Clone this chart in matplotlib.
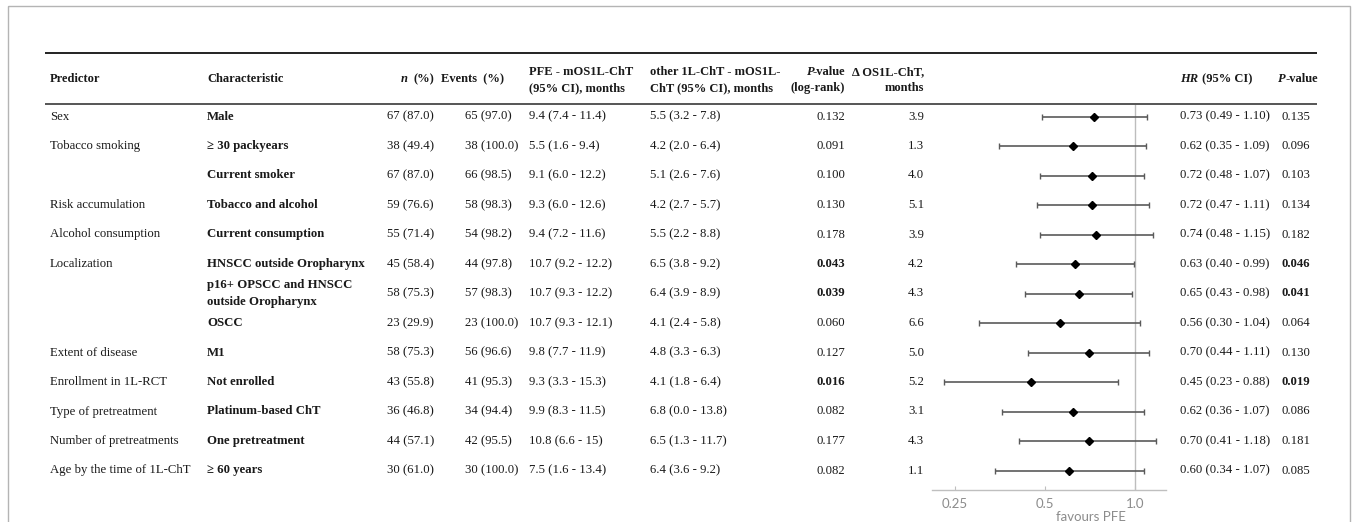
import matplotlib
matplotlib.use("Agg")
import matplotlib.pyplot as plt
import numpy as np
from matplotlib.patches import Rectangle

plt.rcParams['font.family'] = ['Liberation Serif', 'DejaVu Serif']

# ---------------- data ----------------
predictors = ["Sex", "Tobacco smoking", "", "Risk accumulation", "Alcohol consumption",
              "Localization", "", "", "Extent of disease", "Enrollment in 1L-RCT",
              "Type of pretreatment", "Number of pretreatments", "Age by the time of 1L-ChT"]
characteristics = ["Male", "\u2265 30 packyears", "Current smoker", "Tobacco and alcohol",
                   "Current consumption", "HNSCC outside Oropharynx",
                   "p16+ OPSCC and HNSCC\noutside Oropharynx", "OSCC", "M1", "Not enrolled",
                   "Platinum-based ChT", "One pretreatment", "\u2265 60 years"]
n_pct = ["67 (87.0)", "38 (49.4)", "67 (87.0)", "59 (76.6)", "55 (71.4)", "45 (58.4)",
         "58 (75.3)", "23 (29.9)", "58 (75.3)", "43 (55.8)", "36 (46.8)", "44 (57.1)", "30 (61.0)"]
events_pct = ["65 (97.0)", "38 (100.0)", "66 (98.5)", "58 (98.3)", "54 (98.2)", "44 (97.8)",
              "57 (98.3)", "23 (100.0)", "56 (96.6)", "41 (95.3)", "34 (94.4)", "42 (95.5)", "30 (100.0)"]
pfe_mos = ["9.4 (7.4 - 11.4)", "5.5 (1.6 - 9.4)", "9.1 (6.0 - 12.2)", "9.3 (6.0 - 12.6)",
           "9.4 (7.2 - 11.6)", "10.7 (9.2 - 12.2)", "10.7 (9.3 - 12.2)", "10.7 (9.3 - 12.1)",
           "9.8 (7.7 - 11.9)", "9.3 (3.3 - 15.3)", "9.9 (8.3 - 11.5)", "10.8 (6.6 - 15)",
           "7.5 (1.6 - 13.4)"]
other_mos = ["5.5 (3.2 - 7.8)", "4.2 (2.0 - 6.4)", "5.1 (2.6 - 7.6)", "4.2 (2.7 - 5.7)",
             "5.5 (2.2 - 8.8)", "6.5 (3.8 - 9.2)", "6.4 (3.9 - 8.9)", "4.1 (2.4 - 5.8)",
             "4.8 (3.3 - 6.3)", "4.1 (1.8 - 6.4)", "6.8 (0.0 - 13.8)", "6.5 (1.3 - 11.7)",
             "6.4 (3.6 - 9.2)"]
p_logrank = ["0.132", "0.091", "0.100", "0.130", "0.178", "0.043", "0.039", "0.060",
             "0.127", "0.016", "0.082", "0.177", "0.082"]
delta_os = ["3.9", "1.3", "4.0", "5.1", "3.9", "4.2", "4.3", "6.6", "5.0", "5.2", "3.1", "4.3", "1.1"]
hr = np.array([0.73, 0.62, 0.72, 0.72, 0.74, 0.63, 0.65, 0.56, 0.70, 0.45, 0.62, 0.70, 0.60])
hr_lo = np.array([0.49, 0.35, 0.48, 0.47, 0.48, 0.40, 0.43, 0.30, 0.44, 0.23, 0.36, 0.41, 0.34])
hr_hi = np.array([1.10, 1.09, 1.07, 1.11, 1.15, 0.99, 0.98, 1.04, 1.11, 0.88, 1.07, 1.18, 1.07])
p_hr = ["0.135", "0.096", "0.103", "0.134", "0.182", "0.046", "0.041", "0.064",
        "0.130", "0.019", "0.086", "0.181", "0.085"]
xticks = [0.25, 0.5, 1.0]
xticklabels = ["0.25", "0.5", "1.0"]

# ---------------- layout ----------------
W, H = 1356, 522
fig = plt.figure(figsize=(W / 100, H / 100), dpi=100)
base = fig.add_axes([0, 0, 1, 1])
base.set_xlim(0, W)
base.set_ylim(H, 0)
base.axis('off')

ROW0, STEP = 116.5, 29.5
def row_y(i):
    return ROW0 + STEP * i

TXT = '#1a1a1a'
FS = 9.2

# outer frame
base.add_patch(Rectangle((8, 6), 1342, 530, fill=False, edgecolor='#b4b4b4', lw=1.0))

# rules
base.plot([45, 1317], [53, 53], color='#222222', lw=1.4, solid_capstyle='butt')
base.plot([45, 1317], [104, 104], color='#555555', lw=1.4, solid_capstyle='butt')

# headers
hkw = dict(fontsize=9, color=TXT, fontweight='bold', va='center')
base.text(50, 79, "Predictor", ha='left', **hkw)
base.text(207, 79, "Characteristic", ha='left', **hkw)
base.text(434, 79, "(%)", ha='right', **hkw)
base.text(408, 79, "n", ha='right', style='italic', **hkw)
base.text(441, 79, "Events  (%)", ha='left', **hkw)
base.text(529, 72, "PFE - mOS1L-ChT", ha='left', **hkw)
base.text(529, 88, "(95% CI), months", ha='left', **hkw)
base.text(650, 72, "other 1L-ChT - mOS1L-", ha='left', **hkw)
base.text(650, 88, "ChT (95% CI), months", ha='left', **hkw)
base.text(845, 72, "-value", ha='right', **hkw)
base.text(815, 72, "P", ha='right', style='italic', **hkw)
base.text(845, 88, "(log-rank)", ha='right', **hkw)
base.text(924, 72, "\u0394 OS1L-ChT,", ha='right', **hkw)
base.text(924, 88, "months", ha='right', **hkw)
base.text(1180, 79, "HR", ha='left', style='italic', **hkw)
base.text(1199, 79, " (95% CI)", ha='left', **hkw)
base.text(1278, 79, "P", ha='left', style='italic', **hkw)
base.text(1286, 79, "-value", ha='left', **hkw)

# body
bkw = dict(fontsize=FS, color=TXT, va='center')
for i in range(len(characteristics)):
    y = row_y(i)
    base.text(50, y, predictors[i], ha='left', **bkw)
    base.text(207, y, characteristics[i], ha='left', fontweight='bold', linespacing=1.6, **bkw)
    base.text(387, y, n_pct[i], ha='left', **bkw)
    base.text(465, y, events_pct[i], ha='left', **bkw)
    base.text(529, y, pfe_mos[i], ha='left', **bkw)
    base.text(650, y, other_mos[i], ha='left', **bkw)
    bold_lr = float(p_logrank[i]) < 0.05
    base.text(845, y, p_logrank[i], ha='right', fontweight='bold' if bold_lr else 'normal', **bkw)
    base.text(924, y, delta_os[i], ha='right', **bkw)
    base.text(1180, y, f"{hr[i]:.2f} ({hr_lo[i]:.2f} - {hr_hi[i]:.2f})", ha='left', **bkw)
    bold_hr = float(p_hr[i]) < 0.05
    base.text(1281, y, p_hr[i], ha='left', fontweight='bold' if bold_hr else 'normal', **bkw)

# ---------------- forest plot ----------------
AX_L, AX_R, AX_TOP, AX_BOT = 932, 1166, 105, 490
X_ONE, PX_PER_DOUBLING = 1135, 90
fax = fig.add_axes([AX_L / W, 1 - AX_BOT / H, (AX_R - AX_L) / W, (AX_BOT - AX_TOP) / H])
fax.set_xscale('log')
fax.set_xlim(2 ** ((AX_L - X_ONE) / PX_PER_DOUBLING), 2 ** ((AX_R - X_ONE) / PX_PER_DOUBLING))
fax.set_ylim((AX_BOT - ROW0) / STEP, (AX_TOP - ROW0) / STEP)
fax.patch.set_alpha(0)

rows = np.arange(len(hr))
fax.axvline(1.0, color='#bdbdbd', lw=1.0, zorder=1)
fax.errorbar(hr, rows, xerr=[hr - hr_lo, hr_hi - hr], fmt='D', color='black',
             markersize=4.5, ecolor='#5a5a5a', elinewidth=1.2, capsize=2.2, capthick=1.0, zorder=3)

for s in ['top', 'right', 'left']:
    fax.spines[s].set_visible(False)
fax.spines['bottom'].set_color('#bfbfbf')
fax.spines['bottom'].set_linewidth(1.0)
fax.set_yticks([])
fax.xaxis.set_minor_locator(matplotlib.ticker.NullLocator())
fax.set_xticks(xticks)
fax.set_xticklabels(xticklabels, fontfamily='Lato', fontsize=9.5, color='#8c8c8c')
fax.tick_params(axis='x', direction='in', length=3, color='#bfbfbf', pad=6)

base.text(1091, 517, "favours PFE", ha='center', va='center', fontsize=9.5,
          color='#8c8c8c', fontfamily='Lato')

fig.savefig("out.png", dpi=100)
